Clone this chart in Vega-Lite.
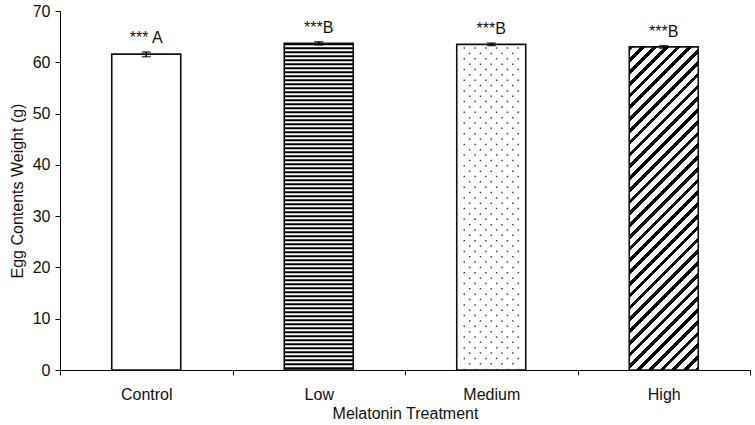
{
  "$schema": "https://vega.github.io/schema/vega-lite/v6.json",
  "width": 690,
  "height": 359,
  "autosize": {"type": "none"},
  "padding": {"left": 60, "top": 11, "right": 5, "bottom": 55},
  "background": "white",
  "config": {
    "view": {"stroke": null},
    "font": "Liberation Sans",
    "axis": {
      "domainColor": "#000",
      "tickColor": "#000",
      "labelColor": "#111",
      "titleColor": "#111",
      "labelFont": "Liberation Sans",
      "titleFont": "Liberation Sans",
      "labelFontSize": 16,
      "titleFontSize": 16,
      "titleFontWeight": "normal",
      "grid": false
    }
  },
  "data": {
    "values": [
      {"treatment": "Control", "mean": 61.6, "lower": 61.1, "upper": 62.0, "label": "*** A"},
      {"treatment": "Low", "mean": 63.7, "lower": 63.4, "upper": 64.0, "label": "***B"},
      {"treatment": "Medium", "mean": 63.5, "lower": 63.25, "upper": 63.75, "label": "***B"},
      {"treatment": "High", "mean": 63.0, "lower": 62.75, "upper": 63.25, "label": "***B"}
    ]
  },
  "encoding": {
    "x": {
      "field": "treatment",
      "type": "nominal",
      "sort": ["Control", "Low", "Medium", "High"],
      "scale": {"paddingInner": 0, "paddingOuter": 0},
      "axis": {
        "title": "Melatonin Treatment",
        "labelAngle": 0,
        "tickBand": "extent",
        "tickSize": 5,
        "labelPadding": 11,
        "titlePadding": 3
      }
    }
  },
  "layer": [
    {
      "mark": {"type": "bar", "width": 69, "fill": "white"},
      "encoding": {
        "y": {
          "field": "mean",
          "type": "quantitative",
          "scale": {"domain": [0, 70]},
          "title": "Egg Contents Weight (g)",
          "axis": {"values": [0, 10, 20, 30, 40, 50, 60, 70], "tickSize": 5, "labelPadding": 5, "titlePadding": 7}
        }
      }
    },
    {
      "transform": [{"filter": "datum.treatment === 'Low'"}],
      "mark": {"type": "rule", "strokeWidth": 69, "strokeDash": [2, 2], "color": "#000", "strokeCap": "butt"},
      "encoding": {
        "y": {"field": "mean", "type": "quantitative", "title": "Egg Contents Weight (g)"},
        "y2": {"datum": 0}
      }
    },
    {
      "transform": [{"filter": "datum.treatment === 'High'"}],
      "mark": {
        "type": "bar",
        "width": 69,
        "fill": {
          "gradient": "linear",
          "x1": 0, "y1": 0, "x2": 0.248, "y2": 1.161,
          "stops": [
            {"offset": 0, "color": "#000"}, {"offset": 0.012, "color": "#000"}, {"offset": 0.012, "color": "#fff"}, {"offset": 0.03, "color": "#fff"},
            {"offset": 0.03, "color": "#000"}, {"offset": 0.042, "color": "#000"}, {"offset": 0.042, "color": "#fff"}, {"offset": 0.06, "color": "#fff"},
            {"offset": 0.06, "color": "#000"}, {"offset": 0.072, "color": "#000"}, {"offset": 0.072, "color": "#fff"}, {"offset": 0.09, "color": "#fff"},
            {"offset": 0.09, "color": "#000"}, {"offset": 0.102, "color": "#000"}, {"offset": 0.102, "color": "#fff"}, {"offset": 0.12, "color": "#fff"},
            {"offset": 0.12, "color": "#000"}, {"offset": 0.132, "color": "#000"}, {"offset": 0.132, "color": "#fff"}, {"offset": 0.15, "color": "#fff"},
            {"offset": 0.15, "color": "#000"}, {"offset": 0.162, "color": "#000"}, {"offset": 0.162, "color": "#fff"}, {"offset": 0.18, "color": "#fff"},
            {"offset": 0.18, "color": "#000"}, {"offset": 0.192, "color": "#000"}, {"offset": 0.192, "color": "#fff"}, {"offset": 0.21, "color": "#fff"},
            {"offset": 0.21, "color": "#000"}, {"offset": 0.222, "color": "#000"}, {"offset": 0.222, "color": "#fff"}, {"offset": 0.24, "color": "#fff"},
            {"offset": 0.24, "color": "#000"}, {"offset": 0.252, "color": "#000"}, {"offset": 0.252, "color": "#fff"}, {"offset": 0.27, "color": "#fff"},
            {"offset": 0.27, "color": "#000"}, {"offset": 0.282, "color": "#000"}, {"offset": 0.282, "color": "#fff"}, {"offset": 0.30, "color": "#fff"},
            {"offset": 0.30, "color": "#000"}, {"offset": 0.312, "color": "#000"}, {"offset": 0.312, "color": "#fff"}, {"offset": 0.33, "color": "#fff"},
            {"offset": 0.33, "color": "#000"}, {"offset": 0.342, "color": "#000"}, {"offset": 0.342, "color": "#fff"}, {"offset": 0.36, "color": "#fff"},
            {"offset": 0.36, "color": "#000"}, {"offset": 0.372, "color": "#000"}, {"offset": 0.372, "color": "#fff"}, {"offset": 0.39, "color": "#fff"},
            {"offset": 0.39, "color": "#000"}, {"offset": 0.402, "color": "#000"}, {"offset": 0.402, "color": "#fff"}, {"offset": 0.42, "color": "#fff"},
            {"offset": 0.42, "color": "#000"}, {"offset": 0.432, "color": "#000"}, {"offset": 0.432, "color": "#fff"}, {"offset": 0.45, "color": "#fff"},
            {"offset": 0.45, "color": "#000"}, {"offset": 0.462, "color": "#000"}, {"offset": 0.462, "color": "#fff"}, {"offset": 0.48, "color": "#fff"},
            {"offset": 0.48, "color": "#000"}, {"offset": 0.492, "color": "#000"}, {"offset": 0.492, "color": "#fff"}, {"offset": 0.51, "color": "#fff"},
            {"offset": 0.51, "color": "#000"}, {"offset": 0.522, "color": "#000"}, {"offset": 0.522, "color": "#fff"}, {"offset": 0.54, "color": "#fff"},
            {"offset": 0.54, "color": "#000"}, {"offset": 0.552, "color": "#000"}, {"offset": 0.552, "color": "#fff"}, {"offset": 0.57, "color": "#fff"},
            {"offset": 0.57, "color": "#000"}, {"offset": 0.582, "color": "#000"}, {"offset": 0.582, "color": "#fff"}, {"offset": 0.60, "color": "#fff"},
            {"offset": 0.60, "color": "#000"}, {"offset": 0.612, "color": "#000"}, {"offset": 0.612, "color": "#fff"}, {"offset": 0.63, "color": "#fff"},
            {"offset": 0.63, "color": "#000"}, {"offset": 0.642, "color": "#000"}, {"offset": 0.642, "color": "#fff"}, {"offset": 0.66, "color": "#fff"},
            {"offset": 0.66, "color": "#000"}, {"offset": 0.672, "color": "#000"}, {"offset": 0.672, "color": "#fff"}, {"offset": 0.69, "color": "#fff"},
            {"offset": 0.69, "color": "#000"}, {"offset": 0.702, "color": "#000"}, {"offset": 0.702, "color": "#fff"}, {"offset": 0.72, "color": "#fff"},
            {"offset": 0.72, "color": "#000"}, {"offset": 0.732, "color": "#000"}, {"offset": 0.732, "color": "#fff"}, {"offset": 0.75, "color": "#fff"},
            {"offset": 0.75, "color": "#000"}, {"offset": 0.762, "color": "#000"}, {"offset": 0.762, "color": "#fff"}, {"offset": 0.78, "color": "#fff"},
            {"offset": 0.78, "color": "#000"}, {"offset": 0.792, "color": "#000"}, {"offset": 0.792, "color": "#fff"}, {"offset": 0.81, "color": "#fff"},
            {"offset": 0.81, "color": "#000"}, {"offset": 0.822, "color": "#000"}, {"offset": 0.822, "color": "#fff"}, {"offset": 0.84, "color": "#fff"},
            {"offset": 0.84, "color": "#000"}, {"offset": 0.852, "color": "#000"}, {"offset": 0.852, "color": "#fff"}, {"offset": 0.87, "color": "#fff"},
            {"offset": 0.87, "color": "#000"}, {"offset": 0.882, "color": "#000"}, {"offset": 0.882, "color": "#fff"}, {"offset": 0.90, "color": "#fff"},
            {"offset": 0.90, "color": "#000"}, {"offset": 0.912, "color": "#000"}, {"offset": 0.912, "color": "#fff"}, {"offset": 0.93, "color": "#fff"},
            {"offset": 0.93, "color": "#000"}, {"offset": 0.942, "color": "#000"}, {"offset": 0.942, "color": "#fff"}, {"offset": 0.96, "color": "#fff"},
            {"offset": 0.96, "color": "#000"}, {"offset": 0.972, "color": "#000"}, {"offset": 0.972, "color": "#fff"}, {"offset": 0.99, "color": "#fff"},
            {"offset": 0.99, "color": "#000"}, {"offset": 1, "color": "#000"}
          ]
        }
      },
      "encoding": {
        "y": {"field": "mean", "type": "quantitative", "title": "Egg Contents Weight (g)"}
      }
    },
    {
      "transform": [{"filter": "datum.treatment === 'Medium'"}],
      "encoding": {
        "y": {"field": "mean", "type": "quantitative", "title": "Egg Contents Weight (g)"},
        "y2": {"datum": 0.3}
      },
      "layer": [
        {"mark": {"type": "rule", "xOffset": -27, "strokeWidth": 1.5, "strokeDash": [1.5, 9.2], "strokeDashOffset": -3, "color": "#444", "strokeCap": "butt"}},
        {"mark": {"type": "rule", "xOffset": -21.6, "strokeWidth": 1.5, "strokeDash": [1.5, 9.2], "strokeDashOffset": -8.35, "color": "#444", "strokeCap": "butt"}},
        {"mark": {"type": "rule", "xOffset": -16.2, "strokeWidth": 1.5, "strokeDash": [1.5, 9.2], "strokeDashOffset": -3, "color": "#444", "strokeCap": "butt"}},
        {"mark": {"type": "rule", "xOffset": -10.8, "strokeWidth": 1.5, "strokeDash": [1.5, 9.2], "strokeDashOffset": -8.35, "color": "#444", "strokeCap": "butt"}},
        {"mark": {"type": "rule", "xOffset": -5.4, "strokeWidth": 1.5, "strokeDash": [1.5, 9.2], "strokeDashOffset": -3, "color": "#444", "strokeCap": "butt"}},
        {"mark": {"type": "rule", "xOffset": 0, "strokeWidth": 1.5, "strokeDash": [1.5, 9.2], "strokeDashOffset": -8.35, "color": "#444", "strokeCap": "butt"}},
        {"mark": {"type": "rule", "xOffset": 5.4, "strokeWidth": 1.5, "strokeDash": [1.5, 9.2], "strokeDashOffset": -3, "color": "#444", "strokeCap": "butt"}},
        {"mark": {"type": "rule", "xOffset": 10.8, "strokeWidth": 1.5, "strokeDash": [1.5, 9.2], "strokeDashOffset": -8.35, "color": "#444", "strokeCap": "butt"}},
        {"mark": {"type": "rule", "xOffset": 16.2, "strokeWidth": 1.5, "strokeDash": [1.5, 9.2], "strokeDashOffset": -3, "color": "#444", "strokeCap": "butt"}},
        {"mark": {"type": "rule", "xOffset": 21.6, "strokeWidth": 1.5, "strokeDash": [1.5, 9.2], "strokeDashOffset": -8.35, "color": "#444", "strokeCap": "butt"}},
        {"mark": {"type": "rule", "xOffset": 27, "strokeWidth": 1.5, "strokeDash": [1.5, 9.2], "strokeDashOffset": -3, "color": "#444", "strokeCap": "butt"}}
      ]
    },
    {
      "mark": {"type": "bar", "width": 69, "fill": null, "fillOpacity": 0, "stroke": "#111", "strokeWidth": 1.6},
      "encoding": {
        "y": {"field": "mean", "type": "quantitative", "title": "Egg Contents Weight (g)"}
      }
    },
    {
      "mark": {"type": "rule", "color": "#000", "strokeWidth": 1.5},
      "encoding": {
        "y": {"field": "lower", "type": "quantitative", "title": "Egg Contents Weight (g)"},
        "y2": {"field": "upper"}
      }
    },
    {
      "mark": {"type": "tick", "color": "#000", "size": 9, "thickness": 1.5},
      "encoding": {
        "y": {"field": "lower", "type": "quantitative", "title": "Egg Contents Weight (g)"}
      }
    },
    {
      "mark": {"type": "tick", "color": "#000", "size": 9, "thickness": 1.5},
      "encoding": {
        "y": {"field": "upper", "type": "quantitative", "title": "Egg Contents Weight (g)"}
      }
    },
    {
      "mark": {"type": "text", "baseline": "alphabetic", "dy": -9, "fontSize": 16, "color": "#111", "font": "Liberation Sans"},
      "encoding": {
        "y": {"field": "upper", "type": "quantitative", "title": "Egg Contents Weight (g)"},
        "text": {"field": "label"}
      }
    }
  ]
}
